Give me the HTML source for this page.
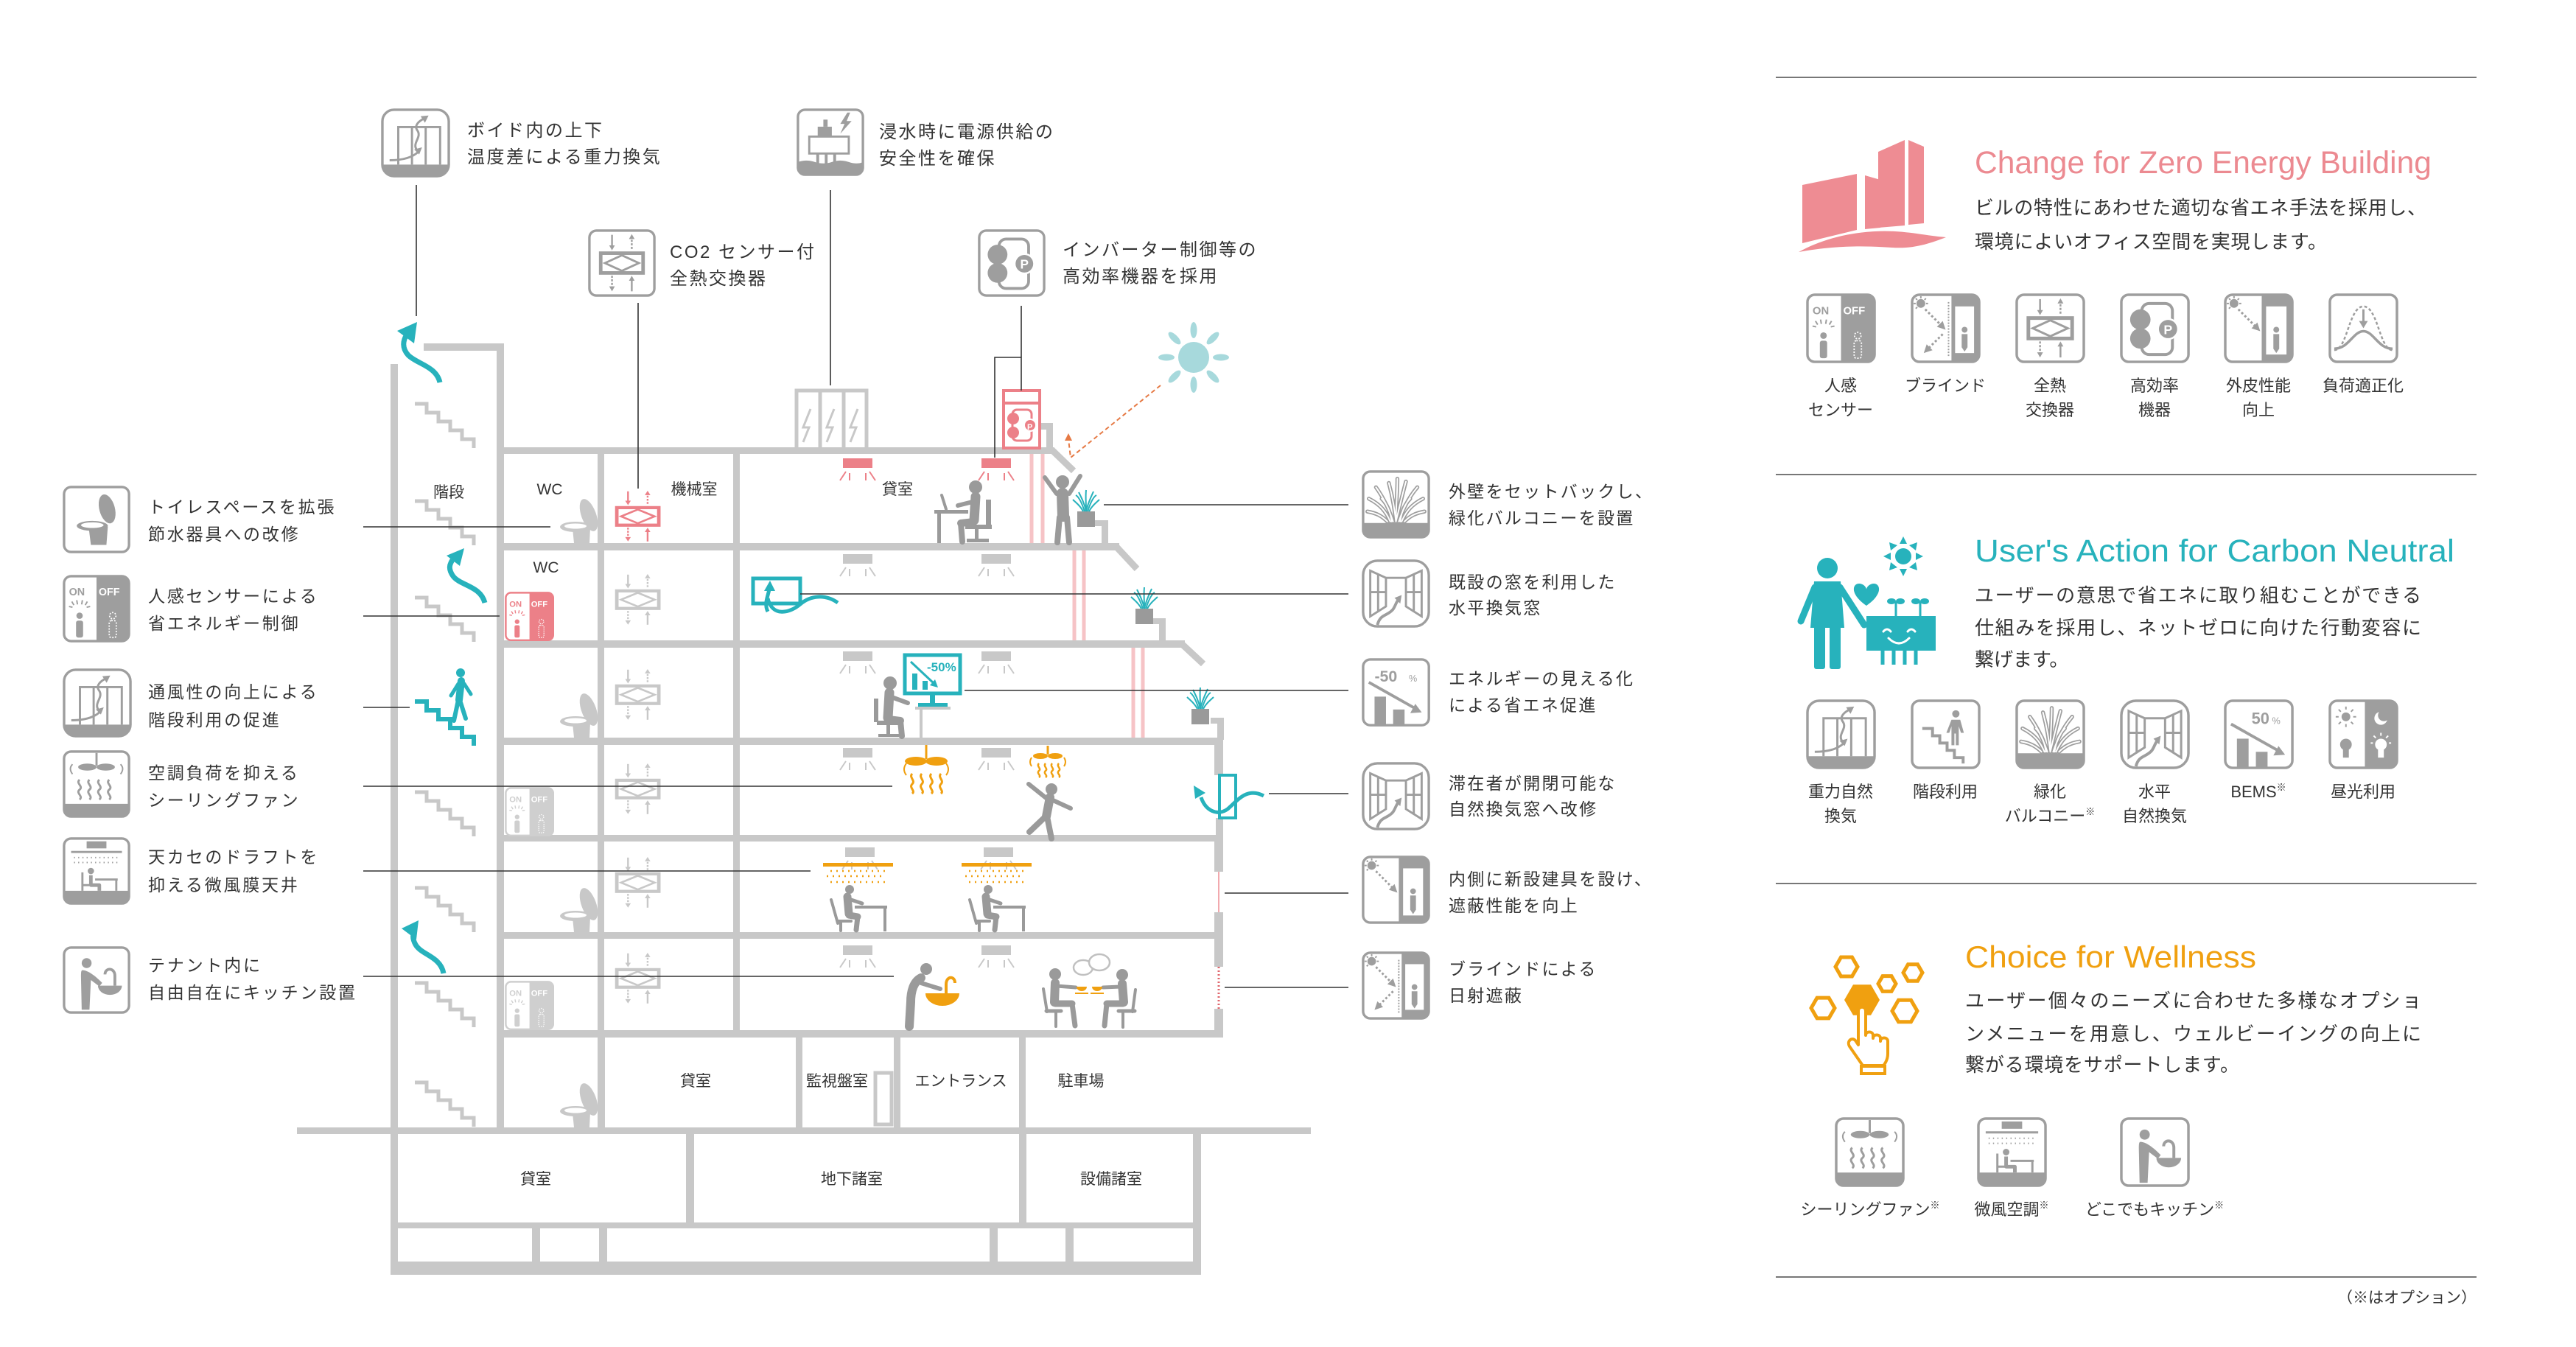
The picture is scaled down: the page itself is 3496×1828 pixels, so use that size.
<!DOCTYPE html>
<html><head><meta charset="utf-8">
<style>
html,body{margin:0;padding:0;background:#fff;}
svg{display:block;}
</style></head><body>
<svg xmlns="http://www.w3.org/2000/svg" width="3496" height="1828" viewBox="0 0 3496 1828" font-family="'Liberation Sans','Noto Sans CJK JP',sans-serif">
<defs>
<path id="grs" fill="none" stroke-linecap="round" d="M48,72 C46,56 44,40 38,18 M48,72 C52,56 56,38 62,16 M40,72 C34,58 26,48 10,40 M56,72 C62,58 70,48 86,40 M44,72 C38,54 30,38 20,24 M52,72 C58,54 66,38 78,24 M36,72 C28,64 20,60 8,58 M60,72 C68,64 76,60 88,58 M48,72 C48,50 50,34 50,12 M42,72 C40,56 34,46 28,40 M54,72 C56,56 62,46 68,40"/>
<symbol id="i-toilet" viewBox="0 0 96 96">
<rect x="2" y="2" width="92" height="92" rx="10" fill="#fff" stroke="currentColor" stroke-width="3.5"/>
<g fill="currentColor"><ellipse cx="63" cy="33" rx="11" ry="21" transform="rotate(-15 63 33)"/><path d="M37,60 L64,58 L62,84 L40,84 Z"/><ellipse cx="42" cy="57" rx="22" ry="7"/></g>
<ellipse cx="42" cy="56" rx="16" ry="4" fill="#fff"/>
</symbol>
<symbol id="i-onoff" viewBox="0 0 96 96">
<rect x="2" y="2" width="92" height="92" rx="10" fill="#fff" stroke="currentColor" stroke-width="3.5"/>
<path d="M48,2 H84 A10,10 0 0 1 94,12 V84 A10,10 0 0 1 84,94 H48 Z" fill="currentColor"/>
<g fill="currentColor"><circle cx="24" cy="58" r="4.5"/><rect x="19" y="65" width="10" height="24" rx="3"/></g>
<g stroke="currentColor" stroke-width="2"><line x1="13" y1="38" x2="16" y2="43"/><line x1="20" y1="36" x2="21" y2="42"/><line x1="28" y1="36" x2="27" y2="42"/><line x1="35" y1="38" x2="32" y2="43"/><line x1="9" y1="45" x2="14" y2="46"/><line x1="39" y1="45" x2="34" y2="46"/></g>
<g fill="none" stroke="#fff" stroke-width="1.8" stroke-dasharray="2 2"><circle cx="71" cy="58" r="4.5"/><rect x="66" y="65" width="10" height="24" rx="3"/></g>
</symbol>
<symbol id="i-gravity" viewBox="0 0 96 96">
<rect x="2" y="2" width="92" height="92" rx="16" fill="#fff" stroke="currentColor" stroke-width="3.5"/>
<path d="M2,78 H94 V78 A16,16 0 0 1 78,94 H18 A16,16 0 0 1 2,78 Z" fill="currentColor"/>
<g fill="none" stroke="currentColor" stroke-width="3"><path d="M24,78 V26 H82 V78 M43,26 V78 M62,26 V78"/><path d="M12,72 C30,72 44,68 52,60"/><path d="M50,58 C42,48 58,40 50,30 C46,24 52,18 60,14"/></g>
<g fill="currentColor"><polygon points="57,54 46,57 53,64"/><polygon points="66,10 55,11 61,20"/></g>
</symbol>
<symbol id="i-fan" viewBox="0 0 96 96">
<rect x="2" y="2" width="92" height="92" rx="10" fill="#fff" stroke="currentColor" stroke-width="3.5"/>
<path d="M2,76 H94 V84 A10,10 0 0 1 84,94 H12 A10,10 0 0 1 2,84 Z" fill="currentColor"/>
<g fill="currentColor"><ellipse cx="35" cy="24" rx="13" ry="5"/><ellipse cx="61" cy="24" rx="13" ry="5"/></g>
<g fill="none" stroke="currentColor" stroke-width="3"><path d="M48,4 V22"/><path d="M14,20 Q8,26 14,34 M82,20 Q88,26 82,34" stroke-width="2"/>
<path d="M24,42 c-6,5 6,9 0,14 c-6,5 6,9 0,14 M38,42 c-6,5 6,9 0,14 c-6,5 6,9 0,14 M52,42 c-6,5 6,9 0,14 c-6,5 6,9 0,14 M66,42 c-6,5 6,9 0,14 c-6,5 6,9 0,14"/></g>
</symbol>
<symbol id="i-micro" viewBox="0 0 96 96">
<rect x="2" y="2" width="92" height="92" rx="10" fill="#fff" stroke="currentColor" stroke-width="3.5"/>
<path d="M2,76 H94 V84 A10,10 0 0 1 84,94 H12 A10,10 0 0 1 2,84 Z" fill="currentColor"/>
<rect x="34" y="6" width="28" height="10" fill="currentColor"/>
<line x1="12" y1="21" x2="84" y2="21" stroke="currentColor" stroke-width="3"/>
<path d="M16,29 H80 M16,36 H80" stroke="currentColor" stroke-width="2" stroke-dasharray="1.5 4.5"/>
<circle cx="40" cy="48" r="4.5" fill="currentColor"/>
<path d="M40,54 V68 H52 V76" stroke="currentColor" stroke-width="5" fill="none" stroke-linejoin="round"/>
<path d="M28,50 V76 M28,68 H40 M46,60 H78 M76,60 V76" stroke="currentColor" stroke-width="3" fill="none"/>
</symbol>
<symbol id="i-kitchen" viewBox="0 0 96 96">
<rect x="2" y="2" width="92" height="92" rx="10" fill="#fff" stroke="currentColor" stroke-width="3.5"/>
<circle cx="34" cy="24" r="7" fill="currentColor"/>
<path d="M28,34 C36,34 46,42 56,52 L52,57 L40,48 L38,90 L27,90 L26,44 C26,38 26,34 28,34 Z" fill="currentColor"/>
<path d="M50,56 H84 A17,13 0 0 1 50,56 Z" fill="currentColor"/>
<path d="M74,56 V42 C74,30 60,30 60,40" stroke="currentColor" stroke-width="4" fill="none"/>
</symbol>
<symbol id="i-green" viewBox="0 0 96 96">
<rect x="2" y="2" width="92" height="92" rx="10" fill="#fff" stroke="currentColor" stroke-width="3.5"/>
<path d="M2,74 H94 V84 A10,10 0 0 1 84,94 H12 A10,10 0 0 1 2,84 Z" fill="currentColor"/>
<use href="#grs" stroke="currentColor" stroke-width="5.5"/>
<use href="#grs" stroke="#fff" stroke-width="2"/>
</symbol>
<symbol id="i-window" viewBox="0 0 96 96">
<rect x="2" y="2" width="92" height="92" rx="20" fill="#fff" stroke="currentColor" stroke-width="3.5"/>
<g fill="none" stroke="currentColor" stroke-width="3"><polygon points="12,16 34,26 34,66 12,80"/><polygon points="84,16 62,26 62,66 84,80"/><path d="M23,21 V74 M12,46 H34 M73,21 V74 M62,46 H84 M34,26 H62"/><path d="M22,92 C26,76 36,80 44,70 C48,64 48,60 52,56" stroke-width="4"/></g>
<polygon points="56,50 46,54 54,62" fill="currentColor"/>
</symbol>
<symbol id="i-bems" viewBox="0 0 96 96">
<rect x="2" y="2" width="92" height="92" rx="10" fill="#fff" stroke="currentColor" stroke-width="3.5"/>
<line x1="10" y1="34" x2="74" y2="70" stroke="currentColor" stroke-width="4"/>
<polygon points="84,76 68,77 75,64" fill="currentColor"/>
<rect x="18" y="54" width="16" height="40" fill="currentColor"/><rect x="44" y="72" width="16" height="22" fill="currentColor"/>
</symbol>
<symbol id="i-shade" viewBox="0 0 96 96">
<rect x="2" y="2" width="92" height="92" rx="10" fill="#fff" stroke="currentColor" stroke-width="3.5"/>
<path d="M52,2 H84 A10,10 0 0 1 94,12 V84 A10,10 0 0 1 84,94 H52 Z" fill="currentColor"/>
<rect x="58" y="18" width="28" height="66" fill="#fff"/>
<circle cx="72" cy="50" r="4" fill="currentColor"/><path d="M68,56 h8 v20 l-4,6 l-4,-6 z" fill="currentColor"/>
<circle cx="14" cy="14" r="6" fill="currentColor"/>
<path d="M4,14 H7 M14,4 V7 M21,14 H24 M7,7 L9,9 M21,7 L19,9 M7,21 L9,19" stroke="currentColor" stroke-width="2"/>
<line x1="20" y1="22" x2="44" y2="46" stroke="currentColor" stroke-width="3" stroke-dasharray="3 3"/>
<polygon points="50,52 38,48 46,40" fill="currentColor"/>
</symbol>
<symbol id="i-blind" viewBox="0 0 96 96">
<rect x="2" y="2" width="92" height="92" rx="10" fill="#fff" stroke="currentColor" stroke-width="3.5"/>
<path d="M56,2 H84 A10,10 0 0 1 94,12 V84 A10,10 0 0 1 84,94 H56 Z" fill="currentColor"/>
<rect x="61" y="18" width="26" height="64" fill="#fff"/>
<circle cx="74" cy="50" r="4" fill="currentColor"/><path d="M70,56 h8 v18 l-4,6 l-4,-6 z" fill="currentColor"/>
<line x1="52" y1="12" x2="52" y2="86" stroke="currentColor" stroke-width="2" stroke-dasharray="2 2"/>
<circle cx="14" cy="14" r="6" fill="currentColor"/>
<path d="M4,14 H7 M14,4 V7 M21,14 H24 M7,7 L9,9 M21,7 L19,9 M7,21 L9,19" stroke="currentColor" stroke-width="2"/>
<line x1="20" y1="22" x2="42" y2="44" stroke="currentColor" stroke-width="3" stroke-dasharray="3 3"/>
<polygon points="48,50 36,46 44,38" fill="currentColor"/>
<line x1="44" y1="56" x2="24" y2="76" stroke="currentColor" stroke-width="3" stroke-dasharray="3 3"/>
<polygon points="18,82 22,70 30,78" fill="currentColor"/>
</symbol>
<g id="hx">
<rect x="18" y="34" width="60" height="28" fill="none" stroke="currentColor" stroke-width="5"/>
<polygon points="24,48 48,37 72,48 48,59" fill="none" stroke="currentColor" stroke-width="3"/>
<g stroke="currentColor" stroke-width="2.5"><line x1="34" y1="8" x2="34" y2="24"/><line x1="62" y1="28" x2="62" y2="12" stroke-dasharray="3 2"/><line x1="34" y1="66" x2="34" y2="82" stroke-dasharray="3 2"/><line x1="62" y1="88" x2="62" y2="72"/></g>
<g fill="currentColor"><polygon points="30,23 38,23 34,30"/><polygon points="58,14 66,14 62,7"/><polygon points="30,81 38,81 34,88"/><polygon points="58,73 66,73 62,66"/></g>
</g>
<symbol id="i-heatex" viewBox="0 0 96 96">
<rect x="2" y="2" width="92" height="92" rx="10" fill="#fff" stroke="currentColor" stroke-width="3.5"/>
<use href="#hx"/>
</symbol>
<symbol id="i-inv" viewBox="0 0 96 96">
<rect x="2" y="2" width="92" height="92" rx="10" fill="#fff" stroke="currentColor" stroke-width="3.5"/>
<rect x="30" y="14" width="42" height="70" rx="10" fill="none" stroke="currentColor" stroke-width="4"/>
<circle cx="28" cy="36" r="14" fill="currentColor"/><circle cx="28" cy="62" r="14" fill="currentColor"/>
<circle cx="66" cy="49" r="15" fill="#fff"/><circle cx="66" cy="49" r="12.5" fill="currentColor"/>
</symbol>
<symbol id="i-load" viewBox="0 0 96 96">
<rect x="2" y="2" width="92" height="92" rx="10" fill="#fff" stroke="currentColor" stroke-width="3.5"/>
<path d="M8,78 C26,78 28,18 48,18 C68,18 70,78 88,78" fill="none" stroke="currentColor" stroke-width="2.5" stroke-dasharray="4 3"/>
<path d="M8,76 C28,76 34,52 48,52 C62,52 68,76 88,76" fill="none" stroke="currentColor" stroke-width="3.5"/>
<line x1="48" y1="22" x2="48" y2="40" stroke="currentColor" stroke-width="3"/>
<polygon points="42,38 54,38 48,48" fill="currentColor"/>
</symbol>
<symbol id="i-stairs" viewBox="0 0 96 96">
<rect x="2" y="2" width="92" height="92" rx="10" fill="#fff" stroke="currentColor" stroke-width="3.5"/>
<path d="M16,40 H30 V50 H40 V60 H50 V70 H60 V80 H72 V88" fill="none" stroke="currentColor" stroke-width="4"/>
<circle cx="62" cy="20" r="5" fill="currentColor"/>
<path d="M56,28 h12 l5,18 h-4 l-3,-9 v26 h-4 v-16 h-2 v16 h-4 v-26 l-3,9 h-4 z" fill="currentColor"/>
</symbol>
<symbol id="i-day" viewBox="0 0 96 96">
<rect x="2" y="2" width="92" height="92" rx="10" fill="#fff" stroke="currentColor" stroke-width="3.5"/>
<path d="M50,2 H84 A10,10 0 0 1 94,12 V84 A10,10 0 0 1 84,94 H50 Z" fill="currentColor"/>
<circle cx="24" cy="24" r="6" fill="currentColor"/>
<path d="M24,10 V14 M24,34 V38 M10,24 H14 M34,24 H38 M14,14 L17,17 M34,14 L31,17 M14,34 L17,31 M34,34 L31,31" stroke="currentColor" stroke-width="2"/>
<circle cx="72" cy="26" r="9" fill="#fff"/><circle cx="76" cy="22" r="8" fill="currentColor"/>
<circle cx="24" cy="62" r="8" fill="currentColor"/><rect x="20" y="68" width="8" height="12" fill="currentColor"/>
<circle cx="72" cy="62" r="8" fill="#fff"/><rect x="68" y="68" width="8" height="12" fill="#fff"/>
<path d="M72,46 V50 M62,50 L65,53 M82,50 L79,53 M58,60 H61 M86,60 H83" stroke="#fff" stroke-width="2"/>
</symbol>
<symbol id="i-flood" viewBox="0 0 96 96">
<rect x="2" y="2" width="92" height="92" rx="10" fill="#fff" stroke="currentColor" stroke-width="3.5"/>
<path d="M2,76 Q14,72 26,76 T50,76 T74,76 T94,76 V84 A10,10 0 0 1 84,94 H12 A10,10 0 0 1 2,84 Z" fill="currentColor"/>
<rect x="18" y="40" width="56" height="24" fill="#fff" stroke="currentColor" stroke-width="3"/>
<path d="M30,64 V80 M42,64 V80 M54,64 V80" stroke="currentColor" stroke-width="4"/>
<rect x="30" y="26" width="20" height="14" fill="currentColor"/><rect x="38" y="16" width="6" height="10" fill="currentColor"/>
<polygon points="72,6 62,22 68,22 62,36 78,18 71,18 76,6" fill="currentColor"/>
</symbol>
<g id="bt"><ellipse cx="799" cy="-38" rx="10" ry="23" transform="rotate(-20 799 -38)"/><path d="M777,-20 L801,-20 L800,0 L779,0 Z"/><ellipse cx="781" cy="-22" rx="21" ry="7"/><ellipse cx="781" cy="-23" rx="15" ry="3.5" fill="#fff"/></g>
<path id="st" d="M0,0 h16 v12 h16 v12 h16 v12 h16 v12 h16 v12" fill="none"/>
<g id="cu"><rect width="40" height="13" fill="currentColor"/><path d="M-4,30 L4,18 M9,30 V20 M31,20 V30 M36,18 L44,30" stroke="currentColor" stroke-width="2" fill="none"/></g>
<g id="plant"><rect x="0" y="0" width="24" height="21" fill="#9a9a9a"/><path d="M12,0 C10,-10 6,-18 2,-26 M12,0 C14,-10 18,-18 22,-27 M12,0 C12,-12 11,-20 12,-29 M8,0 C4,-8 -2,-12 -6,-16 M16,0 C20,-8 26,-12 30,-16 M10,0 C6,-12 2,-20 -2,-22 M14,0 C18,-12 22,-20 26,-22" stroke="#27b2bc" stroke-width="2" fill="none"/></g>
</defs>

<!-- ================= BUILDING STRUCTURE ================= -->
<g fill="#c8c8c8">
<rect x="530" y="494" width="10" height="1236"/>
<rect x="674" y="466" width="10" height="1068"/>
<rect x="575" y="466" width="109" height="10"/>
<rect x="674" y="607" width="757" height="9"/>
<rect x="1420" y="574" width="9" height="36"/><rect x="1412" y="574" width="17" height="9"/>
<rect x="674" y="737" width="845" height="10"/>
<rect x="1495" y="706" width="9" height="33"/><rect x="1486" y="706" width="18" height="8"/>
<rect x="674" y="869" width="934" height="10"/>
<rect x="1573" y="839" width="9" height="32"/><rect x="1565" y="839" width="17" height="8"/>
<rect x="674" y="1001" width="986" height="10"/>
<rect x="1652" y="974" width="9" height="30"/><rect x="1643" y="974" width="18" height="8"/>
<rect x="1648" y="1001" width="12" height="51"/><rect x="1650" y="1110" width="10" height="30"/>
<rect x="674" y="1133" width="986" height="9"/>
<rect x="1648" y="1133" width="12" height="50"/><rect x="1648" y="1238" width="12" height="35"/>
<rect x="674" y="1265" width="986" height="9"/>
<rect x="1648" y="1265" width="12" height="47"/><rect x="1648" y="1369" width="12" height="32"/>
<rect x="674" y="1398" width="986" height="10"/>
<rect x="811" y="616" width="9" height="782"/><rect x="995" y="616" width="9" height="782"/>
<rect x="811" y="1408" width="10" height="122"/><rect x="1080" y="1408" width="9" height="122"/><rect x="1213" y="1408" width="9" height="122"/><rect x="1383" y="1408" width="9" height="122"/>
<rect x="403" y="1530" width="1376" height="9"/>
<rect x="1619" y="1539" width="11" height="191"/>
<rect x="931" y="1539" width="11" height="120"/><rect x="1383" y="1539" width="10" height="120"/>
<rect x="530" y="1659" width="1100" height="8"/>
<rect x="722" y="1667" width="11" height="45"/><rect x="813" y="1667" width="11" height="45"/><rect x="1343" y="1667" width="11" height="45"/><rect x="1446" y="1667" width="11" height="45"/>
<rect x="530" y="1712" width="1100" height="18"/>
</g>
<g stroke="#c8c8c8" stroke-width="9" stroke-linecap="butt">
<line x1="1428" y1="611" x2="1457" y2="639"/>
<line x1="1515" y1="742" x2="1543" y2="772"/>
<line x1="1604" y1="874" x2="1633" y2="901"/>
</g>
<rect x="1188" y="1456" width="22" height="70" fill="#fff" stroke="#c8c8c8" stroke-width="5"/>
<!-- facade pink lines -->
<g stroke="#f6c3c6" stroke-width="5">
<line x1="1400" y1="616" x2="1400" y2="737"/><line x1="1415" y1="616" x2="1415" y2="737"/>
<line x1="1458" y1="747" x2="1458" y2="869"/><line x1="1471" y1="747" x2="1471" y2="869"/>
<line x1="1538" y1="879" x2="1538" y2="1001"/><line x1="1551" y1="879" x2="1551" y2="1001"/>
</g>
<line x1="1654" y1="1183" x2="1654" y2="1238" stroke="#f2a9ae" stroke-width="2"/>
<line x1="1654" y1="1312" x2="1654" y2="1369" stroke="#e0686f" stroke-width="3" stroke-dasharray="2 3"/>

<!-- stairs -->
<g stroke="#c8c8c8" stroke-width="5">
<use href="#st" x="563" y="548"/><use href="#st" x="563" y="680"/><use href="#st" x="563" y="811"/>
<use href="#st" x="563" y="1075"/><use href="#st" x="563" y="1205"/><use href="#st" x="563" y="1334"/><use href="#st" x="563" y="1469"/>
</g>
<use href="#st" x="563" y="952" stroke="#27b2bc" stroke-width="6"/>
<!-- walking person teal -->
<g stroke="#27b2bc" stroke-linecap="round" fill="none">
<line x1="626" y1="924" x2="623" y2="950" stroke-width="10"/>
<line x1="622" y1="950" x2="616" y2="978" stroke-width="6"/>
<line x1="624" y1="950" x2="632" y2="975" stroke-width="6"/>
<line x1="622" y1="928" x2="612" y2="944" stroke-width="5"/>
<line x1="630" y1="928" x2="639" y2="942" stroke-width="5"/>
</g>
<circle cx="625" cy="913" r="6" fill="#27b2bc"/>
<!-- teal arrows in core -->
<g fill="none" stroke="#27b2bc" stroke-width="7">
<path d="M597,519 C592,497 566,494 554,482 C545,472 547,462 552,454"/>
<path d="M658,818 C652,795 625,795 615,782 C608,772 610,766 614,760"/>
<path d="M602,1321 C598,1298 572,1296 564,1282 C559,1273 560,1268 563,1264"/>
</g>
<g fill="#27b2bc">
<polygon points="566,437 539,449 562,466"/>
<polygon points="630,744 606,754 624,768"/>
<polygon points="568,1249 545,1260 565,1275"/>
</g>

<!-- WC ON/OFF small -->
<g transform="translate(685,803) scale(0.7)" color="#ec8088"><use href="#i-onoff" width="96" height="96"/><text x="9" y="29" font-size="16" font-weight="bold" fill="currentColor">ON</text><text x="51" y="29" font-size="16" font-weight="bold" fill="#fff">OFF</text></g>
<g transform="translate(685,1068) scale(0.7)" color="#cfcfcf"><use href="#i-onoff" width="96" height="96"/><text x="9" y="29" font-size="16" font-weight="bold" fill="currentColor">ON</text><text x="51" y="29" font-size="16" font-weight="bold" fill="#fff">OFF</text></g>
<g transform="translate(685,1331) scale(0.7)" color="#cfcfcf"><use href="#i-onoff" width="96" height="96"/><text x="9" y="29" font-size="16" font-weight="bold" fill="currentColor">ON</text><text x="51" y="29" font-size="16" font-weight="bold" fill="#fff">OFF</text></g>

<!-- toilets -->
<g fill="#c8c8c8">
<use href="#bt" y="737"/><use href="#bt" y="1001"/><use href="#bt" y="1265"/><use href="#bt" y="1530"/>
</g>

<!-- heat exchangers in machine room -->
<g transform="translate(820,660) scale(0.95,0.85)" color="#ec8088"><use href="#hx"/></g>
<g color="#c8c8c8">
<g transform="translate(820,773) scale(0.95,0.85)"><use href="#hx"/></g>
<g transform="translate(820,902) scale(0.95,0.85)"><use href="#hx"/></g>
<g transform="translate(820,1030) scale(0.95,0.85)"><use href="#hx"/></g>
<g transform="translate(820,1157) scale(0.95,0.85)"><use href="#hx"/></g>
<g transform="translate(820,1287) scale(0.95,0.85)"><use href="#hx"/></g>
</g>

<!-- ceiling units -->
<g color="#ec8088"><use href="#cu" x="1144" y="622"/><use href="#cu" x="1332" y="622"/></g>
<g color="#c8c8c8">
<use href="#cu" x="1144" y="752"/><use href="#cu" x="1332" y="752"/>
<use href="#cu" x="1144" y="884"/><use href="#cu" x="1332" y="884"/>
<use href="#cu" x="1144" y="1015"/><use href="#cu" x="1332" y="1015"/>
<use href="#cu" x="1147" y="1150"/><use href="#cu" x="1335" y="1150"/>
<use href="#cu" x="1144" y="1283"/><use href="#cu" x="1332" y="1283"/>
</g>

<!-- rooftop units -->
<g fill="none" stroke="#c8c8c8" stroke-width="5">
<rect x="1081" y="530" width="95" height="80"/>
<path d="M1113,530 V610 M1145,530 V610"/>
</g>
<g fill="none" stroke="#c8c8c8" stroke-width="3">
<path d="M1100,555 L1090,580 L1098,580 L1090,600"/>
<path d="M1132,555 L1122,580 L1130,580 L1122,600"/>
<path d="M1164,555 L1154,580 L1162,580 L1154,600"/>
</g>
<rect x="1362" y="530" width="49" height="78" fill="#fff" stroke="#ec8088" stroke-width="4"/>
<line x1="1362" y1="547" x2="1411" y2="547" stroke="#ec8088" stroke-width="4"/>
<rect x="1374" y="556" width="26" height="42" rx="6" fill="none" stroke="#ec8088" stroke-width="3"/>
<circle cx="1375" cy="568" r="8" fill="#ec8088"/><circle cx="1375" cy="587" r="8" fill="#ec8088"/><circle cx="1398" cy="577" r="8" fill="#ec8088" stroke="#fff" stroke-width="2"/>
<text x="1394" y="583" font-size="11" font-weight="bold" fill="#fff">P</text>

<!-- sun -->
<g fill="#a7d9dc">
<circle cx="1620" cy="485" r="21"/>
<ellipse cx="1657" cy="485" rx="11" ry="4.5"/>
<ellipse cx="1646" cy="511" rx="11" ry="4.5" transform="rotate(45 1646 511)"/>
<ellipse cx="1620" cy="522" rx="11" ry="4.5" transform="rotate(90 1620 522)"/>
<ellipse cx="1594" cy="511" rx="11" ry="4.5" transform="rotate(135 1594 511)"/>
<ellipse cx="1583" cy="485" rx="11" ry="4.5"/>
<ellipse cx="1594" cy="459" rx="11" ry="4.5" transform="rotate(45 1594 459)"/>
<ellipse cx="1620" cy="448" rx="11" ry="4.5" transform="rotate(90 1620 448)"/>
<ellipse cx="1646" cy="459" rx="11" ry="4.5" transform="rotate(135 1646 459)"/>
</g>
<path d="M1575,523 L1453,621 L1450,596" fill="none" stroke="#e67a45" stroke-width="2" stroke-dasharray="6 4"/>
<polygon points="1450,588 1445,598 1455,598" fill="#e67a45"/>

<!-- floor A people -->
<g fill="#9a9a9a">
<rect x="1268" y="692" width="46" height="5"/><rect x="1272" y="692" width="5" height="45"/>
<circle cx="1324" cy="661" r="9"/>
<rect x="1338" y="678" width="7" height="34"/><rect x="1310" y="712" width="36" height="6"/><rect x="1323" y="712" width="5" height="21"/><rect x="1312" y="731" width="30" height="5"/>
<circle cx="1442" cy="654" r="9"/>
</g>
<g stroke="#9a9a9a" stroke-linecap="round" fill="none">
<line x1="1278" y1="672" x2="1284" y2="691" stroke-width="4"/>
<line x1="1324" y1="674" x2="1322" y2="706" stroke-width="13"/>
<line x1="1320" y1="681" x2="1300" y2="686" stroke-width="6"/>
<line x1="1322" y1="708" x2="1304" y2="710" stroke-width="10"/>
<line x1="1304" y1="710" x2="1306" y2="735" stroke-width="8"/>
<line x1="1442" y1="670" x2="1443" y2="700" stroke-width="16"/>
<line x1="1438" y1="702" x2="1435" y2="736" stroke-width="8"/>
<line x1="1448" y1="702" x2="1451" y2="736" stroke-width="8"/>
<line x1="1434" y1="670" x2="1418" y2="648" stroke-width="6"/>
<line x1="1451" y1="670" x2="1466" y2="646" stroke-width="6"/>
</g>
<use href="#plant" x="1462" y="694"/><use href="#plant" x="1541" y="826"/><use href="#plant" x="1617" y="962"/>

<!-- floor B teal window -->
<rect x="1022" y="785" width="64" height="34" fill="#fff" stroke="#27b2bc" stroke-width="5"/>
<path d="M1042,830 C1036,818 1044,806 1044,798 M1042,812 C1048,838 1072,832 1086,820 C1100,808 1120,806 1137,818" fill="none" stroke="#27b2bc" stroke-width="5"/>
<polygon points="1045,788 1037,802 1052,802" fill="#27b2bc"/>

<!-- floor C monitor and person -->
<rect x="1228" y="889" width="75" height="52" fill="#fff" stroke="#27b2bc" stroke-width="5"/>
<line x1="1236" y1="898" x2="1268" y2="928" stroke="#27b2bc" stroke-width="3"/>
<polygon points="1273,933 1262,930 1269,922" fill="#27b2bc"/>
<rect x="1238" y="914" width="7" height="22" fill="#27b2bc"/><rect x="1252" y="924" width="7" height="12" fill="#27b2bc"/>
<text x="1258" y="911" font-size="17" font-weight="bold" fill="#27b2bc">-50%</text>
<rect x="1262" y="941" width="7" height="15" fill="#27b2bc"/><rect x="1246" y="954" width="40" height="5" fill="#27b2bc"/>
<rect x="1242" y="959" width="48" height="4" fill="#c8c8c8"/><rect x="1248" y="959" width="4" height="42" fill="#c8c8c8"/>
<g fill="#9a9a9a"><circle cx="1208" cy="927" r="9"/><rect x="1186" y="948" width="6" height="32"/><rect x="1190" y="978" width="30" height="6"/><rect x="1203" y="984" width="5" height="14"/><rect x="1192" y="996" width="28" height="4"/></g>
<g stroke="#9a9a9a" stroke-linecap="round" fill="none">
<line x1="1207" y1="940" x2="1205" y2="974" stroke-width="13"/>
<line x1="1210" y1="946" x2="1232" y2="954" stroke-width="6"/>
<line x1="1206" y1="976" x2="1222" y2="978" stroke-width="10"/>
<line x1="1222" y1="978" x2="1224" y2="999" stroke-width="8"/>
</g>

<!-- floor D fans and dancer -->
<g stroke="#f0a010" fill="none" stroke-width="3">
<line x1="1257" y1="1011" x2="1257" y2="1030"/>
<path d="M1230,1036 q-6,8 0,16 M1284,1036 q6,8 0,16" stroke-width="2"/>
<path d="M1238,1050 c-5,5 5,9 0,14 c-5,5 5,9 0,13 M1251,1050 c-5,5 5,9 0,14 c-5,5 5,9 0,13 M1264,1050 c-5,5 5,9 0,14 c-5,5 5,9 0,13 M1277,1050 c-5,5 5,9 0,14 c-5,5 5,9 0,13"/>
<line x1="1422" y1="1012" x2="1422" y2="1024"/>
<path d="M1400,1028 q-4,6 0,12 M1444,1028 q4,6 0,12" stroke-width="2"/>
<path d="M1410,1036 c-4,4 4,7 0,10 c-4,4 4,6 0,9 M1419,1036 c-4,4 4,7 0,10 c-4,4 4,6 0,9 M1428,1036 c-4,4 4,7 0,10 c-4,4 4,6 0,9 M1437,1036 c-4,4 4,7 0,10 c-4,4 4,6 0,9" stroke-width="2.5"/>
</g>
<g fill="#f0a010"><ellipse cx="1243" cy="1033" rx="15" ry="6"/><ellipse cx="1271" cy="1033" rx="15" ry="6"/><ellipse cx="1412" cy="1026" rx="10" ry="4"/><ellipse cx="1432" cy="1026" rx="10" ry="4"/></g>
<circle cx="1427" cy="1071" r="8" fill="#9a9a9a"/>
<g stroke="#9a9a9a" stroke-linecap="round" fill="none">
<line x1="1425" y1="1082" x2="1420" y2="1108" stroke-width="12"/>
<line x1="1421" y1="1084" x2="1396" y2="1064" stroke-width="6"/>
<line x1="1429" y1="1086" x2="1453" y2="1097" stroke-width="6"/>
<line x1="1419" y1="1108" x2="1397" y2="1129" stroke-width="8"/>
<line x1="1421" y1="1108" x2="1427" y2="1138" stroke-width="8"/>
</g>
<!-- facade teal window -->
<rect x="1655" y="1052" width="22" height="58" fill="#fff" stroke="#27b2bc" stroke-width="4"/>
<path d="M1715,1080 C1692,1068 1680,1086 1666,1098 C1652,1108 1636,1100 1630,1082" fill="none" stroke="#27b2bc" stroke-width="5"/>
<polygon points="1620,1066 1622,1084 1636,1076" fill="#27b2bc"/>

<!-- floor E micro-wind -->
<rect x="1117" y="1171" width="95" height="5" fill="#f0a010"/><rect x="1305" y="1171" width="95" height="5" fill="#f0a010"/>
<g stroke="#f0a010" stroke-width="2.5" stroke-dasharray="2 6">
<path d="M1127,1182 H1203 M1122,1189 H1198 M1127,1197 H1203 M1315,1182 H1391 M1310,1189 H1386 M1315,1197 H1391"/>
</g>
<g fill="#9a9a9a"><circle cx="1153" cy="1207" r="6"/><circle cx="1341" cy="1207" r="6"/>
<rect x="1160" y="1229" width="44" height="4"/><rect x="1199" y="1229" width="4" height="35"/>
<rect x="1348" y="1229" width="44" height="4"/><rect x="1387" y="1229" width="4" height="35"/></g>
<g stroke="#9a9a9a" stroke-linecap="round" fill="none">
<line x1="1128" y1="1221" x2="1137" y2="1253" stroke-width="4"/><line x1="1137" y1="1250" x2="1155" y2="1250" stroke-width="4"/><line x1="1141" y1="1252" x2="1141" y2="1263" stroke-width="4"/>
<line x1="1150" y1="1217" x2="1152" y2="1240" stroke-width="11"/><line x1="1152" y1="1220" x2="1170" y2="1226" stroke-width="5"/><line x1="1152" y1="1242" x2="1164" y2="1244" stroke-width="9"/><line x1="1164" y1="1244" x2="1162" y2="1262" stroke-width="7"/>
<line x1="1316" y1="1221" x2="1325" y2="1253" stroke-width="4"/><line x1="1325" y1="1250" x2="1343" y2="1250" stroke-width="4"/><line x1="1329" y1="1252" x2="1329" y2="1263" stroke-width="4"/>
<line x1="1338" y1="1217" x2="1340" y2="1240" stroke-width="11"/><line x1="1340" y1="1220" x2="1358" y2="1226" stroke-width="5"/><line x1="1340" y1="1242" x2="1352" y2="1244" stroke-width="9"/><line x1="1352" y1="1244" x2="1350" y2="1262" stroke-width="7"/>
</g>

<!-- floor F kitchen & coffee -->
<circle cx="1257" cy="1315" r="8" fill="#9a9a9a"/>
<g stroke="#9a9a9a" stroke-linecap="round" fill="none">
<path d="M1250,1327 C1240,1332 1236,1345 1236,1360 L1234,1393" stroke-width="12"/>
<line x1="1250" y1="1334" x2="1276" y2="1342" stroke-width="6"/>
</g>
<path d="M1256,1348 H1302 A23,17 0 0 1 1256,1348 Z" fill="#f0a010"/>
<path d="M1284,1348 V1336 C1284,1324 1296,1324 1296,1334" fill="none" stroke="#f0a010" stroke-width="4"/>
<g fill="#9a9a9a"><circle cx="1432" cy="1322" r="8"/><circle cx="1523" cy="1323" r="8"/></g>
<g stroke="#9a9a9a" stroke-linecap="round" fill="none">
<line x1="1416" y1="1342" x2="1421" y2="1373" stroke-width="4"/><line x1="1420" y1="1372" x2="1440" y2="1372" stroke-width="5"/><line x1="1433" y1="1374" x2="1433" y2="1393" stroke-width="4"/>
<line x1="1432" y1="1334" x2="1431" y2="1360" stroke-width="12"/><line x1="1434" y1="1338" x2="1460" y2="1340" stroke-width="5"/><line x1="1432" y1="1362" x2="1455" y2="1362" stroke-width="9"/><line x1="1455" y1="1362" x2="1459" y2="1392" stroke-width="7"/>
<line x1="1541" y1="1343" x2="1537" y2="1373" stroke-width="4"/><line x1="1518" y1="1372" x2="1540" y2="1372" stroke-width="5"/><line x1="1524" y1="1374" x2="1524" y2="1394" stroke-width="4"/>
<line x1="1523" y1="1335" x2="1525" y2="1360" stroke-width="12"/><line x1="1521" y1="1339" x2="1497" y2="1340" stroke-width="5"/><line x1="1524" y1="1362" x2="1502" y2="1362" stroke-width="9"/><line x1="1502" y1="1362" x2="1499" y2="1392" stroke-width="7"/>
</g>
<g fill="#f0a010"><path d="M1461,1339 h14 a7,6 0 0 1 -14,0 Z"/><path d="M1482,1339 h14 a7,6 0 0 1 -14,0 Z"/><rect x="1459" y="1347" width="18" height="2"/><rect x="1480" y="1347" width="18" height="2"/></g>
<g fill="none" stroke="#c0c0c0" stroke-width="2.5"><ellipse cx="1470" cy="1313" rx="13" ry="10"/><ellipse cx="1492" cy="1306" rx="14" ry="11" fill="#fff"/></g>

<!-- building labels -->
<g font-size="21" fill="#333" text-anchor="middle">
<text x="609" y="675">階段</text>
<text x="746" y="671">WC</text>
<text x="942" y="671">機械室</text>
<text x="1218" y="671">貸室</text>
<text x="741" y="777">WC</text>
<text x="944" y="1474">貸室</text>
<text x="1136" y="1474">監視盤室</text>
<text x="1304" y="1474">エントランス</text>
<text x="1467" y="1474">駐車場</text>
<text x="727" y="1607">貸室</text>
<text x="1156" y="1607">地下諸室</text>
<text x="1508" y="1607">設備諸室</text>
</g>

<!-- leader lines -->
<g stroke="#333" stroke-width="1.6" fill="none">
<path d="M493,715 H747 M493,836 H678 M493,960 H556 M493,1067 H1211 M493,1182 H1100 M493,1325 H1213"/>
<path d="M565,251 V429 M1127,258 V523 M866,411 V663 M1386,415 V530 M1386,485 H1350 V621"/>
<path d="M1498,685 H1830 M1086,806 H1830 M1309,937 H1830 M1722,1077 H1830 M1662,1212 H1830 M1662,1340 H1830"/>
</g>

<!-- ================= LEFT CALLOUTS ================= -->
<g color="#9e9e9e">
<use href="#i-toilet" x="85" y="659" width="92" height="92"/>
<g transform="translate(85,780) scale(0.958)"><use href="#i-onoff" width="96" height="96"/><text x="9" y="29" font-size="15" font-weight="bold" fill="currentColor">ON</text><text x="51" y="29" font-size="15" font-weight="bold" fill="#fff">OFF</text></g>
<use href="#i-gravity" x="85" y="907" width="94" height="94"/>
<use href="#i-fan" x="85" y="1018" width="92" height="92"/>
<use href="#i-micro" x="85" y="1136" width="92" height="92"/>
<use href="#i-kitchen" x="85" y="1284" width="92" height="92"/>
</g>
<g font-size="23" fill="#333" style="letter-spacing:2.8px">
<text x="201" y="696">トイレスペースを拡張</text><text x="201" y="733">節水器具への改修</text>
<text x="201" y="817">人感センサーによる</text><text x="201" y="854">省エネルギー制御</text>
<text x="201" y="947">通風性の向上による</text><text x="201" y="985">階段利用の促進</text>
<text x="201" y="1057">空調負荷を抑える</text><text x="201" y="1094">シーリングファン</text>
<text x="201" y="1171">天カセのドラフトを</text><text x="201" y="1209">抑える微風膜天井</text>
<text x="201" y="1318">テナント内に</text><text x="201" y="1355">自由自在にキッチン設置</text>
</g>

<!-- ================= TOP CALLOUTS ================= -->
<g color="#9e9e9e">
<use href="#i-gravity" x="517" y="147" width="94" height="94"/>
<use href="#i-flood" x="1081" y="147" width="92" height="92"/>
<use href="#i-heatex" x="798" y="311" width="92" height="92"/>
<g transform="translate(1327,311) scale(0.958)"><use href="#i-inv" width="96" height="96"/><text x="60" y="56" font-size="18" font-weight="bold" fill="#fff">P</text></g>
</g>
<g font-size="24" fill="#333" style="letter-spacing:2.5px">
<text x="634" y="185">ボイド内の上下</text><text x="634" y="221">温度差による重力換気</text>
<text x="1193" y="187">浸水時に電源供給の</text><text x="1193" y="223">安全性を確保</text>
<text x="909" y="350">CO2 センサー付</text><text x="909" y="386">全熱交換器</text>
<text x="1442" y="347">インバーター制御等の</text><text x="1442" y="383">高効率機器を採用</text>
</g>

<!-- ================= RIGHT CALLOUTS ================= -->
<g color="#9e9e9e">
<use href="#i-green" x="1848" y="638" width="93" height="93"/>
<use href="#i-window" x="1848" y="759" width="93" height="93"/>
<g transform="translate(1848,893) scale(0.97)"><use href="#i-bems" width="96" height="96"/><text x="18" y="33" font-size="22" font-weight="bold" fill="currentColor">-50</text><text x="66" y="33" font-size="13" fill="currentColor">%</text></g>
<use href="#i-window" x="1848" y="1034" width="93" height="93"/>
<use href="#i-shade" x="1848" y="1161" width="93" height="93"/>
<use href="#i-blind" x="1848" y="1291" width="93" height="93"/>
</g>
<g font-size="23" fill="#333" style="letter-spacing:2.3px">
<text x="1966" y="675">外壁をセットバックし、</text><text x="1966" y="711">緑化バルコニーを設置</text>
<text x="1966" y="798">既設の窓を利用した</text><text x="1966" y="833">水平換気窓</text>
<text x="1966" y="929">エネルギーの見える化</text><text x="1966" y="965">による省エネ促進</text>
<text x="1966" y="1071">滞在者が開閉可能な</text><text x="1966" y="1106">自然換気窓へ改修</text>
<text x="1966" y="1201">内側に新設建具を設け、</text><text x="1966" y="1237">遮蔽性能を向上</text>
<text x="1966" y="1323">ブラインドによる</text><text x="1966" y="1359">日射遮蔽</text>
</g>

<!-- ================= RIGHT PANEL ================= -->
<g fill="#777">
<rect x="2410" y="104" width="951" height="2"/>
<rect x="2410" y="643" width="951" height="2"/>
<rect x="2410" y="1198" width="951" height="2"/>
<rect x="2410" y="1732" width="951" height="2"/>
</g>

<!-- section 1 -->
<g fill="#ee8c93">
<polygon points="2446,251 2520,236 2520,312 2446,330"/>
<polygon points="2531,238 2552,244 2552,309 2531,311"/>
<polygon points="2549,206 2585,190 2585,306 2549,309"/>
<polygon points="2590,190 2611,199 2611,303 2590,305"/>
<path d="M2441,342 C2470,326 2505,316 2545,314 C2585,312 2612,320 2641,322 C2620,330 2598,338 2568,336 C2536,334 2496,332 2441,342 Z"/>
</g>
<text x="2680" y="235" font-size="43" fill="#ec8a91" textLength="620" lengthAdjust="spacingAndGlyphs">Change for Zero Energy Building</text>
<g font-size="26" fill="#333">
<text x="2680" y="291" textLength="613" lengthAdjust="spacing">ビルの特性にあわせた適切な省エネ手法を採用し、</text>
<text x="2680" y="337" textLength="478" lengthAdjust="spacing">環境によいオフィス空間を実現します。</text>
</g>
<g color="#9e9e9e">
<g transform="translate(2451,398) scale(0.99)"><use href="#i-onoff" width="96" height="96"/><text x="9" y="29" font-size="15" font-weight="bold" fill="currentColor">ON</text><text x="51" y="29" font-size="15" font-weight="bold" fill="#fff">OFF</text></g>
<use href="#i-blind" x="2593" y="398" width="95" height="95"/>
<use href="#i-heatex" x="2735" y="398" width="95" height="95"/>
<g transform="translate(2877,398) scale(0.99)"><use href="#i-inv" width="96" height="96"/><text x="60" y="56" font-size="18" font-weight="bold" fill="#fff">P</text></g>
<use href="#i-shade" x="3018" y="398" width="95" height="95"/>
<use href="#i-load" x="3160" y="398" width="95" height="95"/>
</g>
<g font-size="22" fill="#333" text-anchor="middle">
<text x="2498" y="531">人感</text><text x="2498" y="564">センサー</text>
<text x="2640" y="531">ブラインド</text>
<text x="2782" y="531">全熱</text><text x="2782" y="564">交換器</text>
<text x="2924" y="531">高効率</text><text x="2924" y="564">機器</text>
<text x="3065" y="531">外皮性能</text><text x="3065" y="564">向上</text>
<text x="3207" y="531">負荷適正化</text>
</g>

<!-- section 2 -->
<g fill="#27b2bc">
<circle cx="2480" cy="771" r="14"/>
<path d="M2462,789 H2498 L2503,852 H2457 Z"/>
<rect x="2462" y="846" width="15" height="62" rx="3"/><rect x="2483" y="846" width="15" height="62" rx="3"/>
<rect x="2533" y="836" width="94" height="47"/>
<path d="M2533,822 C2510,806 2514,792 2523,792 C2529,792 2533,797 2533,800 C2533,797 2537,792 2543,792 C2552,792 2556,806 2533,822 Z"/>
<circle cx="2583" cy="755" r="11"/>
<polygon points="2583,728 2578,738 2588,738"/><polygon points="2583,782 2578,772 2588,772"/><polygon points="2556,755 2566,750 2566,760"/><polygon points="2610,755 2600,750 2600,760"/>
<polygon points="2564,736 2566,747 2575,740"/><polygon points="2602,736 2591,740 2600,747"/><polygon points="2564,774 2575,770 2566,763"/><polygon points="2602,774 2600,763 2591,770"/>
<ellipse cx="2567" cy="816" rx="6" ry="4"/><ellipse cx="2579" cy="816" rx="6" ry="4"/><ellipse cx="2600" cy="816" rx="6" ry="4"/><ellipse cx="2612" cy="816" rx="6" ry="4"/>
</g>
<g stroke="#27b2bc" stroke-linecap="round" fill="none">
<line x1="2463" y1="797" x2="2444" y2="843" stroke-width="9"/>
<line x1="2497" y1="797" x2="2530" y2="848" stroke-width="9"/>
<path d="M2555,883 V902 M2570,883 V902 M2585,883 V902 M2600,883 V902" stroke-width="5" stroke-linecap="butt"/>
<path d="M2573,836 V818 M2606,836 V818" stroke-width="3"/>
</g>
<g stroke="#fff" stroke-width="3" fill="none" stroke-linecap="round">
<path d="M2556,857 q5,-6 10,0 M2589,857 q5,-6 10,0"/>
<path d="M2563,866 q14,14 28,0"/>
</g>
<text x="2680" y="762" font-size="43" fill="#27b2bc" textLength="651" lengthAdjust="spacingAndGlyphs">User's Action for Carbon Neutral</text>
<g font-size="26" fill="#333">
<text x="2680" y="817" textLength="606" lengthAdjust="spacing">ユーザーの意思で省エネに取り組むことができる</text>
<text x="2680" y="861" textLength="606" lengthAdjust="spacing">仕組みを採用し、ネットゼロに向けた行動変容に</text>
<text x="2680" y="904">繋げます。</text>
</g>
<g color="#9e9e9e">
<use href="#i-gravity" x="2451" y="949" width="95" height="95"/>
<use href="#i-stairs" x="2593" y="949" width="95" height="95"/>
<use href="#i-green" x="2735" y="949" width="95" height="95"/>
<use href="#i-window" x="2877" y="949" width="95" height="95"/>
<g transform="translate(3018,949) scale(0.99)"><use href="#i-bems" width="96" height="96"/><text x="38" y="34" font-size="22" font-weight="bold" fill="currentColor">50</text><text x="66" y="34" font-size="13" fill="currentColor">%</text></g>
<use href="#i-day" x="3160" y="949" width="95" height="95"/>
</g>
<g font-size="22" fill="#333" text-anchor="middle">
<text x="2498" y="1082">重力自然</text><text x="2498" y="1115">換気</text>
<text x="2640" y="1082">階段利用</text>
<text x="2782" y="1082">緑化</text><text x="2782" y="1115">バルコニー<tspan font-size="13" dy="-9">※</tspan></text>
<text x="2924" y="1082">水平</text><text x="2924" y="1115">自然換気</text>
<text x="3065" y="1082">BEMS<tspan font-size="13" dy="-9">※</tspan></text>
<text x="3207" y="1082">昼光利用</text>
</g>

<!-- section 3 -->
<g fill="none" stroke="#f0a010" stroke-width="5">
<polygon points="2521,1312 2513.5,1325 2498.5,1325 2491,1312 2498.5,1299 2513.5,1299"/>
<polygon points="2609,1320 2602.5,1331.3 2589.5,1331.3 2583,1320 2589.5,1308.7 2602.5,1308.7"/>
<polygon points="2573,1335 2567,1345.4 2555,1345.4 2549,1335 2555,1324.6 2567,1324.6"/>
<polygon points="2490,1368 2482,1381.9 2466,1381.9 2458,1368 2466,1354.1 2482,1354.1"/>
<polygon points="2602,1372 2593.5,1386.7 2576.5,1386.7 2568,1372 2576.5,1357.3 2593.5,1357.3"/>
</g>
<polygon points="2551,1357 2539,1377.8 2515,1377.8 2503,1357 2515,1336.2 2539,1336.2" fill="#f0a010"/>
<path d="M2522,1372 C2522,1365 2532,1365 2532,1372 L2532,1405 C2532,1399 2542,1399 2542,1405 L2542,1409 C2542,1403 2552,1403 2552,1409 L2552,1413 C2552,1407 2562,1407 2562,1413 L2562,1430 C2562,1440 2556,1446 2556,1446 L2528,1446 L2510,1420 C2506,1413 2513,1407 2518,1412 L2522,1418 Z" fill="#fff" stroke="#f0a010" stroke-width="4" stroke-linejoin="round"/>
<rect x="2526" y="1447" width="32" height="10" fill="#fff" stroke="#f0a010" stroke-width="4"/>
<text x="2667" y="1313" font-size="42" fill="#f0a010" textLength="395" lengthAdjust="spacingAndGlyphs">Choice for Wellness</text>
<g font-size="26" fill="#333">
<text x="2667" y="1367" textLength="619" lengthAdjust="spacing">ユーザー個々のニーズに合わせた多様なオプショ</text>
<text x="2667" y="1412" textLength="619" lengthAdjust="spacing">ンメニューを用意し、ウェルビーイングの向上に</text>
<text x="2667" y="1454" textLength="372" lengthAdjust="spacing">繋がる環境をサポートします。</text>
</g>
<g color="#9e9e9e">
<use href="#i-fan" x="2490" y="1516" width="95" height="95"/>
<use href="#i-micro" x="2683" y="1516" width="95" height="95"/>
<use href="#i-kitchen" x="2877" y="1516" width="95" height="95"/>
</g>
<g font-size="22" fill="#333" text-anchor="middle">
<text x="2538" y="1649">シーリングファン<tspan font-size="13" dy="-9">※</tspan></text>
<text x="2730" y="1649">微風空調<tspan font-size="13" dy="-9">※</tspan></text>
<text x="2924" y="1649">どこでもキッチン<tspan font-size="13" dy="-9">※</tspan></text>
</g>
<text x="3361" y="1768" font-size="21" fill="#333" text-anchor="end">（※はオプション）</text>
</svg>
</body></html>
